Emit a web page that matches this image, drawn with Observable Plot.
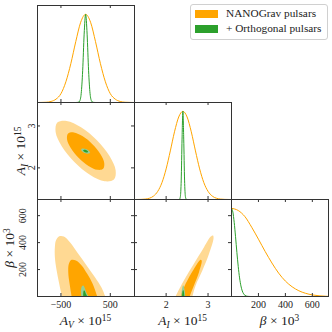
<!DOCTYPE html>
<html><head><meta charset="utf-8">
<script src="https://cdn.jsdelivr.net/npm/d3@7"></script>
<script src="https://cdn.jsdelivr.net/npm/@observablehq/plot@0.6"></script>
<style>
html,body{margin:0;padding:0;background:#fff;}
#chart{position:relative;width:332px;height:332px;overflow:hidden;font-family:"Liberation Serif","DejaVu Serif","Times New Roman",serif;color:#222;}
#chart svg{position:absolute;}
.lab{position:absolute;font-size:13.5px;white-space:nowrap;line-height:1;}
.lab sub,.lab sup{font-size:70%;line-height:0;position:relative;vertical-align:baseline;}
.lab sub{top:0.3em;}
.lab sup{top:-0.45em;}
.legend{position:absolute;left:190px;top:4px;width:136px;height:34px;border:1px solid #d0d0d0;border-radius:3px;background:rgba(255,255,255,0.85);}
.sw{position:absolute;width:23px;height:8px;}
.lt{position:absolute;font-size:11.3px;line-height:1;white-space:nowrap;}
</style></head><body><div id="chart"></div><script>
// ---- axis ranges & ticks ----
const avDomain = [-975, 990];
const aiDomain = [1.245, 3.56];
const betaDomain = [0, 720];
const densityDomain = [0, 1.1];
const avTicks = [-500, 500];
const aiTicks = [2, 3];
const betaTicks = [200, 400, 600];

// ---- labels ----
const seriesNames = ["NANOGrav pulsars", "+ Orthogonal pulsars"];
const paramSymbols = ["A", "A", "β"];
const paramSubs = ["V", "I", ""];
const paramPowers = ["15", "15", "3"];

// ---- 1D marginals ----
const avGrid = [-975, -900, -800, -700, -600, -500, -400, -300, -200, -100, 0, 100, 200, 300, 400, 500, 600, 700, 800, 900, 990];
const avOrange = [0, 0.001, 0.003, 0.012, 0.038, 0.10, 0.235, 0.44, 0.69, 0.91, 1.0, 0.91, 0.69, 0.44, 0.235, 0.10, 0.038, 0.012, 0.003, 0.001, 0];
const avGreenGrid = [-200, -150, -120, -90, -60, -30, 0, 30, 60, 90, 120, 150, 200];
const avGreen = [0, 0.002, 0.017, 0.10, 0.36, 0.775, 1.0, 0.775, 0.36, 0.10, 0.017, 0.002, 0];

const aiGrid = [1.245, 1.3, 1.4, 1.5, 1.6, 1.7, 1.8, 1.9, 2.0, 2.1, 2.2, 2.3, 2.4, 2.5, 2.6, 2.7, 2.8, 2.9, 3.0, 3.1, 3.2, 3.3, 3.4, 3.5, 3.56];
const aiOrange = [0, 0.0003, 0.0013, 0.0047, 0.0145, 0.039, 0.0925, 0.191, 0.347, 0.551, 0.768, 0.936, 1.0, 0.936, 0.768, 0.551, 0.347, 0.191, 0.0925, 0.039, 0.0145, 0.0047, 0.0013, 0.0003, 0];
const aiGreenGrid = [2.30, 2.32, 2.34, 2.36, 2.38, 2.40, 2.42, 2.44, 2.46, 2.48, 2.50];
const aiGreen = [0, 0.0024, 0.033, 0.22, 0.685, 1.0, 0.685, 0.22, 0.033, 0.0024, 0];

const betaGrid = [0, 50, 100, 150, 200, 250, 300, 350, 400, 450, 500, 550, 600, 650, 700, 720];
const betaOrange = [1.0, 0.975, 0.905, 0.785, 0.65, 0.51, 0.38, 0.265, 0.175, 0.11, 0.065, 0.036, 0.018, 0.008, 0.003, 0.002];
const betaGreenGrid = [0, 10, 20, 30, 40, 50, 60, 70, 80, 90, 100, 120, 140];
const betaGreen = [1.0, 0.958, 0.841, 0.678, 0.50, 0.339, 0.211, 0.12, 0.063, 0.030, 0.013, 0.002, 0];

// ---- 2D contours (outline points) ----
// A_V vs A_I
const avaiOuterV = [574, 608, 481, 223, -93, -385, -574, -608, -481, -223, 93, 385];
const avaiOuterA = [1.720, 1.943, 2.289, 2.664, 2.970, 3.121, 3.080, 2.857, 2.511, 2.136, 1.830, 1.679];
const avaiInnerV = [355, 377, 298, 138, -58, -239, -355, -377, -298, -138, 58, 239];
const avaiInnerA = [1.978, 2.116, 2.330, 2.564, 2.753, 2.847, 2.821, 2.684, 2.470, 2.236, 2.047, 1.953];
const avaiGreenOuterV = [91, 74, 14, -55, -91, -74, -14, 55];
const avaiGreenOuterA = [2.361, 2.404, 2.445, 2.460, 2.439, 2.396, 2.355, 2.340];
const avaiGreenInnerV = [50, 41, 8, -30, -50, -41, -8, 30];
const avaiGreenInnerA = [2.378, 2.402, 2.425, 2.433, 2.422, 2.398, 2.375, 2.367];
// A_V vs beta
const avbOuterV = [-464, -481, -535, -588, -623, -623, -602, -535, -440, -318, -150, 20, 189, 324, 398, 432];
const avbOuterB = [-30, 0, 94, 195, 292, 366, 416, 447, 445, 403, 317, 230, 143, 65, 0, -30];
const avbInnerV = [-270, -284, -325, -352, -339, -284, -197, -81, 32, 142, 235, 265];
const avbInnerB = [-30, 0, 94, 180, 243, 272, 267, 230, 168, 94, 0, -30];
const avbGreenOuterV = [-88, -89, -95, -75, -49, -20, 20, 61, 75];
const avbGreenOuterB = [-20, 0, 45, 77, 82, 65, 25, 0, -20];
const avbGreenInnerV = [-49, -49, -48, -35, -20, 5, 32, 42];
const avbGreenInnerB = [-15, 0, 25, 44, 42, 20, 0, -15];
// A_I vs beta
const aibOuterA = [2.173, 2.223, 2.423, 2.663, 2.904, 3.065, 3.120, 3.130, 3.024, 2.865, 2.704, 2.625, 2.596];
const aibOuterB = [-30, 0, 119, 243, 366, 445, 453, 428, 317, 193, 82, 0, -30];
const aibInnerA = [2.306, 2.344, 2.464, 2.663, 2.824, 2.848, 2.784, 2.663, 2.560, 2.522];
const aibInnerB = [-30, 0, 94, 205, 272, 267, 180, 82, 0, -30];
const aibGreenOuterA = [2.36, 2.365, 2.37, 2.385, 2.405, 2.425, 2.445, 2.455, 2.458];
const aibGreenOuterB = [-20, 0, 35, 65, 84, 72, 40, 0, -20];
const aibGreenInnerA = [2.378, 2.38, 2.385, 2.398, 2.413, 2.428, 2.435, 2.437];
const aibGreenInnerB = [-15, 0, 25, 45, 47, 25, 0, -15];

// ---- styling ----
const ORANGE = "#ffa500", ORANGE_LIGHT = "#ffd993", GREEN = "#2ca02c", GREEN_LIGHT = "#96cf96";
const AX = "#333";
const FONT = "'Liberation Serif','DejaVu Serif','Times New Roman',serif";
const X0 = 37, Y0 = 5, S = 97, TL = 3;
const chart = document.getElementById("chart");
const pts = (xs, ys) => xs.map((x, i) => ({x, y: ys[i]}));

function ticksFor(xT, yT, twoD) {
  const m = [
    Plot.tickX(xT, {x: d => d, insetTop: S - TL, stroke: AX}),
    Plot.tickX(xT, {x: d => d, insetBottom: S - TL, stroke: AX})
  ];
  if (twoD) {
    m.push(Plot.tickY(yT, {y: d => d, insetRight: S - TL, stroke: AX}));
    m.push(Plot.tickY(yT, {y: d => d, insetLeft: S - TL, stroke: AX}));
  }
  return m;
}
function contour(xs, ys, color) {
  return Plot.line(pts(xs, ys), {x: "x", y: "y", fill: color, stroke: "none", curve: "catmull-rom-closed", clip: true});
}
function curve(xs, ys, color) {
  return Plot.line(pts(xs, ys), {x: "x", y: "y", stroke: color, strokeWidth: 1, curve: "monotone-x", clip: true});
}
function xLabels(xT) {
  return Plot.axisX(xT, {anchor: "bottom", tickSize: 0, tickPadding: 4, tickFormat: d3.format("d"), fontSize: 10, label: null, fontFamily: FONT});
}
function yLabels(yT, dx) {
  return Plot.text(yT, {y: d => d, text: d => d3.format("d")(d), frameAnchor: "left", dx: -dx, rotate: -90, fontSize: 10, fontFamily: FONT, textAnchor: "middle", lineAnchor: "middle"});
}
function panel(r, c, xDomain, yDomain, marks) {
  const ml = c === 0 ? X0 : 0;
  const svg = Plot.plot({
    width: ml + S + 1, height: S + 1,
    marginLeft: ml, marginRight: 1, marginTop: 0, marginBottom: 1,
    x: {domain: xDomain, axis: null},
    y: {domain: yDomain, axis: null},
    style: {background: "transparent", overflow: "visible", fontFamily: FONT, fontSize: "10px", color: "#222"},
    marks: marks.concat([Plot.frame({stroke: AX})])
  });
  svg.style.left = (c === 0 ? 0 : X0 + c * S) + "px";
  svg.style.top = (Y0 + r * S) + "px";
  chart.appendChild(svg);
}

// Row 1: A_V marginal
panel(0, 0, avDomain, densityDomain, [
  curve(avGrid, avOrange, ORANGE),
  curve(avGreenGrid, avGreen, GREEN),
  ...ticksFor(avTicks, [], false)
]);
// Row 2
panel(1, 0, avDomain, aiDomain, [
  contour(avaiOuterV, avaiOuterA, ORANGE_LIGHT),
  contour(avaiInnerV, avaiInnerA, ORANGE),
  contour(avaiGreenOuterV, avaiGreenOuterA, GREEN_LIGHT),
  contour(avaiGreenInnerV, avaiGreenInnerA, GREEN),
  ...ticksFor(avTicks, aiTicks, true),
  yLabels(aiTicks, 6)
]);
panel(1, 1, aiDomain, densityDomain, [
  curve(aiGrid, aiOrange, ORANGE),
  curve(aiGreenGrid, aiGreen, GREEN),
  ...ticksFor(aiTicks, [], false)
]);
// Row 3
panel(2, 0, avDomain, betaDomain, [
  contour(avbOuterV, avbOuterB, ORANGE_LIGHT),
  contour(avbInnerV, avbInnerB, ORANGE),
  contour(avbGreenOuterV, avbGreenOuterB, GREEN_LIGHT),
  contour(avbGreenInnerV, avbGreenInnerB, GREEN),
  ...ticksFor(avTicks, betaTicks, true),
  xLabels(avTicks),
  yLabels(betaTicks, 15)
]);
panel(2, 1, aiDomain, betaDomain, [
  contour(aibOuterA, aibOuterB, ORANGE_LIGHT),
  contour(aibInnerA, aibInnerB, ORANGE),
  contour(aibGreenOuterA, aibGreenOuterB, GREEN_LIGHT),
  contour(aibGreenInnerA, aibGreenInnerB, GREEN),
  ...ticksFor(aiTicks, betaTicks, true),
  xLabels(aiTicks)
]);
panel(2, 2, betaDomain, densityDomain, [
  curve(betaGrid, betaOrange, ORANGE),
  curve(betaGreenGrid, betaGreen, GREEN),
  ...ticksFor(betaTicks, [], false),
  xLabels(betaTicks)
]);

// ---- axis labels (HTML, math-style) ----
function mathLabel(i) {
  return `<i>${paramSymbols[i]}</i>` + (paramSubs[i] ? `<sub><i>${paramSubs[i]}</i></sub>` : "") + ` × 10<sup>${paramPowers[i]}</sup>`;
}
function label(html, x, y, rot) {
  const d = document.createElement("div");
  d.className = "lab";
  d.innerHTML = html;
  d.style.left = x + "px";
  d.style.top = y + "px";
  d.style.transform = "translate(-50%,-50%)" + (rot ? " rotate(-90deg)" : "");
  chart.appendChild(d);
}
label(mathLabel(0), X0 + S * 0.5, 321, false);
label(mathLabel(1), X0 + S * 1.5, 321, false);
label(mathLabel(2), X0 + S * 2.5, 321, false);
label(mathLabel(1), 21, Y0 + S * 1.5, true);
label(mathLabel(2), 10, Y0 + S * 2.5, true);

// ---- legend ----
const lg = document.createElement("div");
lg.className = "legend";
[ORANGE, GREEN].forEach((col, i) => {
  const sw = document.createElement("div");
  sw.className = "sw";
  sw.style.left = "4px"; sw.style.top = (4.5 + i * 15.5) + "px"; sw.style.background = col;
  lg.appendChild(sw);
  const t = document.createElement("div");
  t.className = "lt";
  t.textContent = seriesNames[i];
  t.style.left = "35px"; t.style.top = (2.5 + i * 15.5) + "px";
  lg.appendChild(t);
});
chart.appendChild(lg);
</script></body></html>
